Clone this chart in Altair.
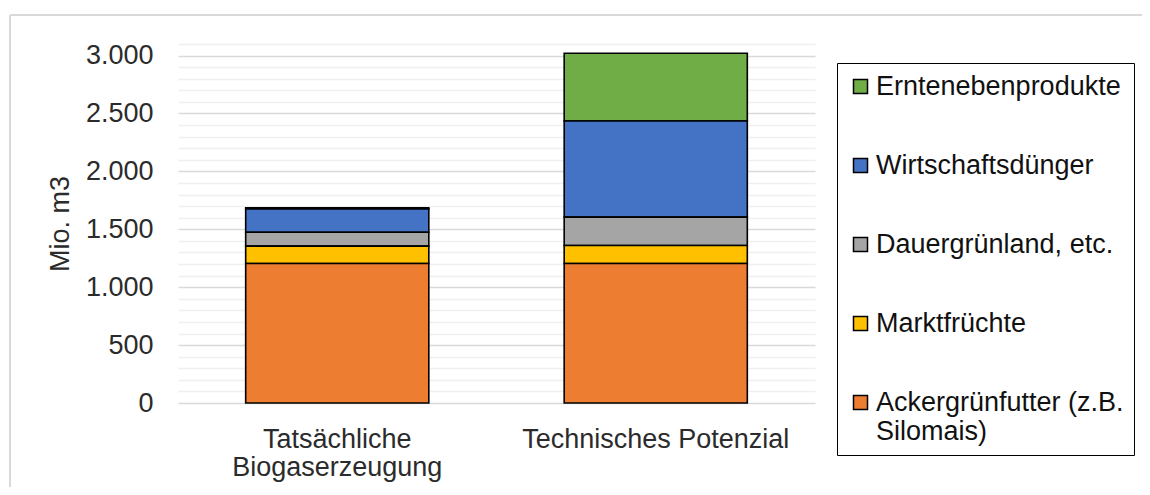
import altair as alt
import pandas as pd

categories = ["Tatsächliche Biogaserzeugung", "Technisches Potenzial"]
series = [
    "Erntenebenprodukte",
    "Wirtschaftsdünger",
    "Dauergrünland, etc.",
    "Marktfrüchte",
    "Ackergrünfutter (z.B. Silomais)",
]
colors = ["#70AD47", "#4472C4", "#A5A5A5", "#FFC000", "#ED7D31"]

ernte = [10, 585]
wirt = [200, 830]
dauer = [120, 245]
markt = [150, 155]
acker = [1205, 1205]

y_ticks = list(range(0, 3101, 100))

values_by_series = {
    "Erntenebenprodukte": ernte,
    "Wirtschaftsdünger": wirt,
    "Dauergrünland, etc.": dauer,
    "Marktfrüchte": markt,
    "Ackergrünfutter (z.B. Silomais)": acker,
}

rows = []
for s_idx, s in enumerate(series):
    for c_idx, c in enumerate(categories):
        rows.append({"Kategorie": c, "Quelle": s, "Wert": values_by_series[s][c_idx],
                     "idx": len(series) - 1 - s_idx})
df = pd.DataFrame(rows)

FONT = "Liberation Sans"
TXT = "#2b2b2b"

bars = alt.Chart(df).mark_bar(stroke="black", strokeWidth=1.6).encode(
    x=alt.X(
        "Kategorie:N",
        sort=categories,
        scale=alt.Scale(paddingInner=0.425, paddingOuter=0.2125),
        axis=alt.Axis(
            title=None, labelAngle=0, labelFontSize=27, labelFont=FONT,
            labelColor=TXT, domain=False, ticks=False, labelPadding=23,
            labelBaseline="top", labelLineHeight=28, grid=False, labelLimit=500,
            labelExpr="datum.label == 'Tatsächliche Biogaserzeugung' ? ['Tatsächliche', 'Biogaserzeugung'] : datum.label",
        ),
    ),
    y=alt.Y(
        "Wert:Q",
        stack="zero",
        scale=alt.Scale(domain=[0, 3100], nice=False),
        axis=alt.Axis(
            title="Mio. m3", values=y_ticks, labelOverlap=False,
            labelExpr="datum.value % 500 == 0 ? replace(format(datum.value, ','), ',', '.') : ''",
            labelFontSize=27, labelFont=FONT, labelColor=TXT,
            titleFontSize=27, titleFont=FONT, titleFontWeight="normal", titleColor=TXT,
            titlePadding=11, labelPadding=25, domain=False, ticks=False,
            gridColor=alt.condition("datum.value % 500 === 0", alt.value("#d9d9d9"), alt.value("#f0f0f0")),
            gridWidth=1.4,
        ),
    ),
    color=alt.Color(
        "Quelle:N",
        scale=alt.Scale(domain=series, range=colors),
        legend=alt.Legend(
            title=None, orient="none", legendX=659, legendY=19, direction="vertical",
            strokeColor="black", fillColor="white", padding=10,
            symbolType="square", symbolSize=196, symbolStrokeColor="black",
            symbolStrokeWidth=1.5, symbolOpacity=1, symbolOffset=0,
            labelFontSize=27, labelFont=FONT, labelColor="#111111",
            rowPadding=51, labelOffset=2, labelLimit=400,
            labelExpr="datum.label == 'Ackergrünfutter (z.B. Silomais)' ? ['Ackergrünfutter (z.B.', 'Silomais)'] : datum.label",
        ),
    ),
    order=alt.Order("idx:Q", sort="ascending"),
)

frame_df = pd.DataFrame({"a": [0]})
frame_top = alt.Chart(frame_df).mark_rule(color="#d9d9d9", strokeWidth=2).encode(
    x=alt.value(-168), x2=alt.value(980), y=alt.value(-29)
)
frame_left = alt.Chart(frame_df).mark_rule(color="#d9d9d9", strokeWidth=2).encode(
    x=alt.value(-168), y=alt.value(-29), y2=alt.value(470)
)

chart = alt.layer(frame_top, frame_left, bars).properties(
    width=637,
    height=359,
    padding={"left": 170, "top": 36, "right": 327, "bottom": 84},
    autosize=alt.AutoSizeParams(type="none"),
    background="white",
).configure_view(strokeWidth=0)

chart.save("out.html", embed_options={"renderer": "svg", "actions": False})
